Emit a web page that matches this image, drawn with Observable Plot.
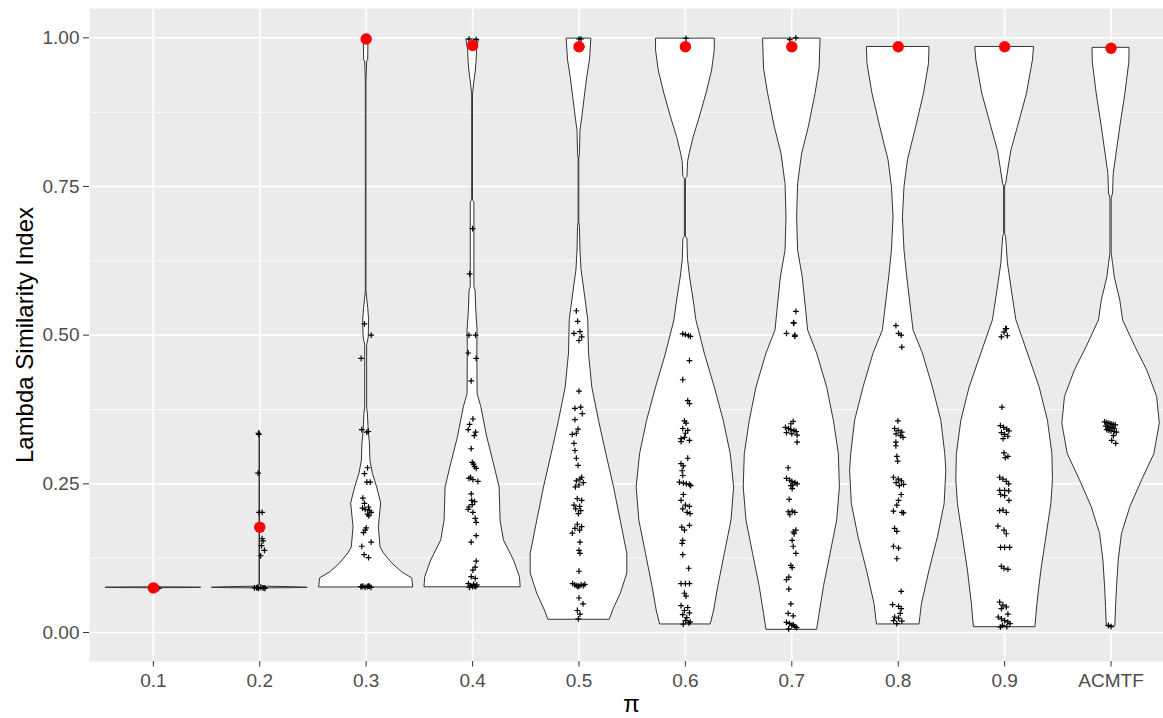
<!DOCTYPE html>
<html><head><meta charset="utf-8">
<script src="https://cdn.jsdelivr.net/npm/d3@7"></script>
<script src="https://cdn.jsdelivr.net/npm/@observablehq/plot@0.6"></script>
<style>html,body{margin:0;padding:0;background:#fff;overflow:hidden}</style>
</head><body><div id="chart"></div>
<script>
// Categories (x axis)
const categories = ["0.1","0.2","0.3","0.4","0.5","0.6","0.7","0.8","0.9","ACMTF"];
const xTitle = "π";
const yTitle = "Lambda Similarity Index";
const yTicks = [0, 0.25, 0.5, 0.75, 1];
const yMinor = [0.125, 0.375, 0.625, 0.875];

// Red points (one per category)
const redValues = [0.075, 0.177, 0.998, 0.987, 0.985, 0.985, 0.985, 0.985, 0.985, 0.9825];

// Violin outlines: [value, half-width as fraction of category band]
const violin01 = [[0.0760,0.0],[0.0757,0.30],[0.0752,0.45],[0.0747,0.30],[0.0744,0.0]];
const violin02 = [[0.338,0.0],[0.337,0.002],[0.080,0.002],[0.077,0.03],[0.0762,0.30],[0.0752,0.45],[0.0745,0.30],[0.0742,0.0]];
const violin03 = [[0.998,0.022],[0.962,0.019],[0.96,0.009],[0.942,0.006],[0.928,0.003],[0.575,0.003],[0.563,0.009],[0.546,0.019],[0.525,0.028],[0.496,0.024],[0.483,0.009],[0.378,0.009],[0.368,0.016],[0.335,0.025],[0.318,0.035],[0.289,0.040],[0.267,0.063],[0.244,0.103],[0.217,0.141],[0.177,0.119],[0.143,0.135],[0.133,0.167],[0.116,0.245],[0.101,0.339],[0.091,0.433],[0.0757,0.442]];
const violin04 = [[0.9966,0.058],[0.979,0.042],[0.962,0.038],[0.945,0.031],[0.925,0.016],[0.905,0.004],[0.726,0.004],[0.724,0.017],[0.581,0.017],[0.575,0.028],[0.541,0.035],[0.508,0.047],[0.48,0.045],[0.401,0.047],[0.379,0.082],[0.328,0.138],[0.284,0.200],[0.244,0.254],[0.188,0.263],[0.155,0.294],[0.121,0.389],[0.093,0.445],[0.076,0.452]];
const violin05 = [[0.998,0.116],[0.962,0.103],[0.934,0.078],[0.9,0.054],[0.866,0.031],[0.844,0.014],[0.805,0.009],[0.795,0.003],[0.69,0.003],[0.682,0.009],[0.642,0.014],[0.609,0.024],[0.57,0.054],[0.525,0.087],[0.469,0.094],[0.412,0.125],[0.356,0.188],[0.3,0.257],[0.244,0.329],[0.188,0.392],[0.132,0.454],[0.099,0.454],[0.065,0.392],[0.037,0.32],[0.0214,0.289]];
const violin06 = [[0.998,0.276],[0.979,0.276],[0.945,0.251],[0.906,0.198],[0.866,0.135],[0.833,0.078],[0.805,0.040],[0.791,0.025],[0.766,0.019],[0.763,0.005],[0.665,0.005],[0.662,0.019],[0.628,0.024],[0.597,0.044],[0.553,0.082],[0.525,0.103],[0.469,0.182],[0.412,0.276],[0.356,0.36],[0.3,0.426],[0.244,0.458],[0.188,0.433],[0.132,0.37],[0.076,0.308],[0.037,0.27],[0.0135,0.238]];
const violin07 = [[0.998,0.27],[0.948,0.261],[0.906,0.223],[0.85,0.16],[0.805,0.097],[0.754,0.059],[0.698,0.05],[0.642,0.059],[0.597,0.103],[0.541,0.135],[0.508,0.153],[0.469,0.238],[0.412,0.332],[0.356,0.395],[0.3,0.442],[0.244,0.452],[0.188,0.426],[0.132,0.364],[0.076,0.301],[0.031,0.261],[0.0045,0.238]];
const violin08 = [[0.984,0.294],[0.956,0.289],[0.906,0.242],[0.85,0.169],[0.794,0.091],[0.749,0.059],[0.698,0.044],[0.642,0.059],[0.597,0.085],[0.541,0.122],[0.508,0.144],[0.469,0.232],[0.412,0.326],[0.356,0.405],[0.3,0.442],[0.272,0.452],[0.216,0.436],[0.16,0.373],[0.104,0.294],[0.048,0.223],[0.0135,0.2]];
const violin09 = [[0.984,0.276],[0.962,0.266],[0.906,0.21],[0.85,0.125],[0.81,0.063],[0.782,0.038],[0.754,0.014],[0.75,0.005],[0.67,0.005],[0.665,0.014],[0.62,0.031],[0.57,0.072],[0.525,0.11],[0.469,0.219],[0.412,0.329],[0.356,0.407],[0.3,0.449],[0.256,0.454],[0.216,0.439],[0.16,0.392],[0.104,0.345],[0.048,0.308],[0.0089,0.289]];
const violinACMTF = [[0.9825,0.174],[0.959,0.172],[0.906,0.135],[0.85,0.087],[0.799,0.047],[0.771,0.025],[0.738,0.019],[0.73,0.006],[0.637,0.006],[0.62,0.019],[0.597,0.035],[0.558,0.087],[0.525,0.113],[0.48,0.229],[0.441,0.339],[0.396,0.433],[0.351,0.458],[0.3,0.407],[0.256,0.292],[0.211,0.182],[0.166,0.103],[0.121,0.072],[0.076,0.056],[0.0425,0.047],[0.0101,0.04]];

// Jittered observations: [value, jitter offset in category units]
const points01 = [[0.075,-0.02],[0.075,0.01],[0.074,0.05]];
const points02 = [[0.335,-0.013],[0.333,-0.009],[0.268,-0.016],[0.202,-0.006],[0.202,0.022],[0.158,0.022],[0.154,0.031],[0.146,0.016],[0.138,0.044],[0.129,0.009],
  [0.075,-0.05],[0.075,-0.03],[0.074,-0.01],[0.076,0.01],[0.075,0.03],[0.074,0.05],[0.076,-0.02],[0.075,0.04]];
const points03 = [[0.519,-0.016],[0.500,0.047],[0.461,-0.047],[0.341,-0.041],[0.337,0.006],[0.338,0.02],[0.277,0.013],[0.267,-0.016],[0.253,0.006],[0.253,0.038],
  [0.226,-0.031],[0.217,-0.016],[0.209,-0.034],[0.207,-0.009],[0.211,0.022],[0.205,0.031],[0.202,0.047],[0.199,0.013],[0.196,0.025],
  [0.176,0],[0.172,-0.009],[0.168,-0.025],[0.152,0.047],[0.145,-0.041],[0.131,-0.019],[0.126,0.022],
  [0.077,-0.05],[0.078,-0.03],[0.076,-0.01],[0.077,0.01],[0.078,0.03],[0.076,0.045],[0.077,-0.04],[0.078,0.02]];
const points04 = [[0.998,-0.034],[0.997,0.034],[0.679,0],[0.603,-0.028],[0.500,-0.034],[0.500,0.028],[0.470,-0.041],[0.461,0.034],[0.423,-0.013],
  [0.359,0.003],[0.350,-0.028],[0.341,-0.041],[0.337,0.028],[0.331,0.016],[0.309,-0.013],[0.286,-0.003],[0.283,0.009],[0.279,0.019],[0.276,0.034],
  [0.261,-0.019],[0.259,-0.034],[0.257,0.003],[0.254,0.05],[0.233,-0.013],[0.222,-0.009],[0.220,0.019],[0.215,-0.003],[0.211,-0.034],[0.207,-0.041],[0.202,0.003],
  [0.192,0.025],[0.185,0.034],[0.163,0.034],[0.152,-0.013],[0.120,0.034],[0.110,0.025],[0.105,0.003],[0.094,-0.013],[0.091,0.025],
  [0.082,-0.04],[0.079,-0.02],[0.077,0],[0.078,0.02],[0.080,0.04],[0.076,-0.03],[0.077,0.03],[0.081,0.01]];
const points05 = [[0.998,0],[0.998,0.019],[0.985,0.031],[0.541,-0.025],[0.523,-0.013],[0.503,-0.047],[0.506,0.009],[0.497,0.025],[0.491,0],[0.406,0],
  [0.377,-0.038],[0.379,0.016],[0.368,0.031],[0.358,-0.038],[0.342,-0.009],[0.333,-0.063],[0.335,-0.025],[0.318,-0.047],[0.306,-0.038],[0.293,-0.025],[0.281,-0.009],
  [0.261,0.025],[0.258,0.009],[0.255,-0.025],[0.252,0.041],[0.248,0],[0.245,-0.034],[0.225,-0.016],[0.222,0.025],
  [0.214,-0.047],[0.212,0.006],[0.208,-0.031],[0.205,0.016],[0.200,-0.006],[0.182,-0.016],[0.178,0.025],[0.175,-0.038],[0.172,0.006],[0.167,-0.063],
  [0.152,0.009],[0.138,0],[0.133,0.009],[0.103,0],
  [0.082,-0.06],[0.080,-0.04],[0.079,-0.02],[0.078,0],[0.080,0.02],[0.079,0.04],[0.081,0.055],[0.077,-0.01],
  [0.058,0],[0.048,0.038],[0.037,-0.016],[0.031,0.009],[0.023,-0.006]];
const points06 = [[0.999,0.006],[0.502,-0.025],[0.501,0],[0.499,0.028],[0.498,0.047],[0.457,0.038],[0.425,-0.025],[0.390,0.022],[0.385,0.038],
  [0.356,-0.009],[0.352,0.006],[0.343,-0.025],[0.340,0.022],[0.335,0],[0.326,-0.041],[0.328,-0.009],[0.323,0.038],[0.321,-0.041],[0.293,0.022],
  [0.284,-0.041],[0.280,-0.019],[0.272,-0.031],[0.264,-0.025],[0.253,-0.056],[0.251,-0.019],[0.250,0.009],[0.249,0.038],[0.247,0.05],
  [0.232,-0.019],[0.222,-0.041],[0.214,0],[0.212,0.038],[0.208,-0.025],[0.202,0.016],[0.200,0.044],
  [0.177,-0.034],[0.172,-0.009],[0.180,0.038],[0.155,-0.025],[0.150,-0.031],[0.131,-0.025],[0.108,0.031],
  [0.082,-0.041],[0.082,0],[0.082,0.038],[0.066,-0.009],[0.061,0.006],
  [0.045,-0.041],[0.042,0.022],[0.037,-0.009],[0.033,0.038],[0.030,-0.025],[0.025,0.013],[0.020,0],[0.016,0.031],[0.014,-0.02],[0.018,0.045]];
const points07 = [[0.997,-0.019],[1.0,0.038],[0.540,0.038],[0.521,0.016],[0.520,0.019],[0.503,-0.05],[0.500,0.028],[0.498,0.028],[0.355,0.013],[0.351,-0.009],
  [0.345,-0.06],[0.343,-0.03],[0.341,-0.01],[0.340,0.02],[0.338,0.04],[0.336,-0.05],[0.334,0.0],[0.332,0.05],[0.320,0.05],[0.277,-0.034],
  [0.259,-0.05],[0.256,-0.02],[0.254,0.0],[0.252,0.03],[0.250,0.05],[0.248,0.01],[0.247,-0.01],[0.242,0.003],[0.224,-0.025],
  [0.203,-0.034],[0.204,0.003],[0.202,0.028],[0.198,-0.019],[0.172,0.038],[0.169,0.013],[0.166,0.022],[0.155,0.003],[0.145,0.013],[0.133,0.038],
  [0.113,-0.009],[0.109,0.003],[0.093,-0.028],[0.089,-0.05],[0.073,-0.028],[0.048,-0.009],[0.032,-0.034],[0.028,0.013],
  [0.017,-0.05],[0.015,-0.02],[0.012,0.0],[0.010,0.03],[0.008,0.045],[0.006,-0.03],[0.013,0.015]];
const points08 = [[0.985,0.01],[0.516,-0.022],[0.503,0.003],[0.500,0.028],[0.480,0.034],[0.356,-0.003],
  [0.343,-0.034],[0.340,0.0],[0.337,0.034],[0.334,-0.02],[0.331,0.02],[0.328,0.045],[0.320,-0.022],[0.314,-0.022],[0.296,-0.013],[0.288,-0.006],
  [0.261,-0.045],[0.258,0.0],[0.255,0.03],[0.252,-0.02],[0.249,0.05],[0.247,0.01],[0.232,0.028],[0.222,0.003],[0.214,-0.013],
  [0.204,-0.045],[0.202,0.034],[0.201,0.05],[0.175,-0.034],[0.170,-0.013],[0.145,-0.045],[0.142,0.003],[0.124,-0.013],[0.069,0.028],
  [0.047,-0.053],[0.044,0.003],[0.040,0.028],[0.032,0.019],[0.026,-0.034],[0.024,0.003],[0.020,-0.044],[0.019,0.034],[0.015,-0.013]];
const points09 = [[0.985,0.02],[0.511,0.016],[0.511,0.009],[0.505,-0.006],[0.497,-0.031],[0.499,0.025],[0.379,-0.025],
  [0.348,-0.04],[0.345,-0.01],[0.342,0.02],[0.339,0.04],[0.336,-0.03],[0.333,0.0],[0.330,0.03],[0.326,-0.015],
  [0.302,-0.006],[0.296,0.031],[0.294,0.006],[0.261,-0.047],[0.258,-0.016],[0.254,0.016],[0.250,0.038],
  [0.239,-0.047],[0.239,0],[0.238,0.038],[0.232,-0.038],[0.230,0],[0.222,0.041],[0.205,-0.047],[0.206,-0.016],[0.202,0.016],
  [0.179,-0.063],[0.172,-0.006],[0.166,0.016],[0.143,-0.038],[0.143,0],[0.143,0.047],[0.111,-0.031],[0.108,-0.006],[0.106,0.031],
  [0.051,-0.047],[0.046,-0.016],[0.043,0.016],[0.040,-0.031],[0.031,0.031],
  [0.026,-0.06],[0.023,-0.03],[0.020,0.0],[0.018,0.03],[0.015,0.05],[0.012,-0.02],[0.010,0.02],[0.009,-0.04]];
const pointsACMTF = [[0.983,0.02],[0.354,-0.06],[0.353,-0.04],[0.352,-0.02],[0.351,0.0],[0.350,0.02],[0.349,0.04],[0.347,-0.05],[0.346,-0.03],[0.345,-0.01],
  [0.344,0.01],[0.343,0.03],[0.341,-0.04],[0.340,-0.02],[0.339,0.0],[0.338,0.03],[0.337,0.05],[0.331,0.022],[0.323,0.006],[0.318,0.044],
  [0.012,-0.025],[0.010,0]];

const violins = [violin01, violin02, violin03, violin04, violin05, violin06, violin07, violin08, violin09, violinACMTF];
const pointSets = [points01, points02, points03, points04, points05, points06, points07, points08, points09, pointsACMTF];

const positions = categories.map((c, i) => i + 1);
const violinRows = violins.flatMap((prof, i) => prof.map(([v, w]) => ({cat: categories[i], v, lo: i + 1 - w, hi: i + 1 + w})));
const pointRows = pointSets.flatMap((pts, i) => pts.map(([v, dx]) => ({x: i + 1 + dx, v})));
const redRows = redValues.map((v, i) => ({x: i + 1, v}));

const font = "Liberation Sans, Arial, Helvetica, sans-serif";

const chart = Plot.plot({
  width: 1163, height: 718,
  marginLeft: 89, marginTop: 8, marginBottom: 57, marginRight: 0,
  style: {fontFamily: font, background: "white", color: "black"},
  x: {domain: [0.4, 10.6], range: [89, 1174.4], axis: null, label: null},
  y: {domain: [-0.0488, 1.0493], range: [661, 8], axis: null, label: null},
  marks: [
    Plot.frame({fill: "#EBEBEB", stroke: "none"}),
    Plot.ruleY(yMinor, {stroke: "white", strokeWidth: 0.8}),
    Plot.ruleY(yTicks, {stroke: "white", strokeWidth: 1.6}),
    Plot.ruleX(positions, {stroke: "white", strokeWidth: 1.6}),
    Plot.areaX(violinRows, {y: "v", x1: "lo", x2: "hi", z: "cat", fill: "white", stroke: "#333333", strokeWidth: 1, curve: "linear"}),
    Plot.dot(pointRows, {x: "x", y: "v", symbol: "plus", r: 2, stroke: "black", strokeWidth: 1.2}),
    Plot.dot(redRows, {x: "x", y: "v", r: 5.7, fill: "red", stroke: "none"}),
    Plot.axisY(yTicks, {anchor: "left", tickSize: 6, tickPadding: 4, tickFormat: d => d.toFixed(2), fontSize: 19, color: "#4D4D4D", stroke: "#333333", label: null}),
    Plot.axisX(positions, {anchor: "bottom", tickSize: 5.5, tickPadding: 6, tickFormat: d => categories[d - 1], fontSize: 19, color: "#4D4D4D", stroke: "#333333", label: null}),
    Plot.text([yTitle], {frameAnchor: "left", textAnchor: "middle", lineAnchor: "middle", dx: -64, rotate: -90, fontSize: 24, fill: "black"}),
    Plot.text([xTitle], {frameAnchor: "bottom", textAnchor: "middle", lineAnchor: "middle", dx: 5, dy: 43, fontSize: 24, fill: "black"})
  ]
});
document.getElementById("chart").appendChild(chart);
</script>
</body></html>
